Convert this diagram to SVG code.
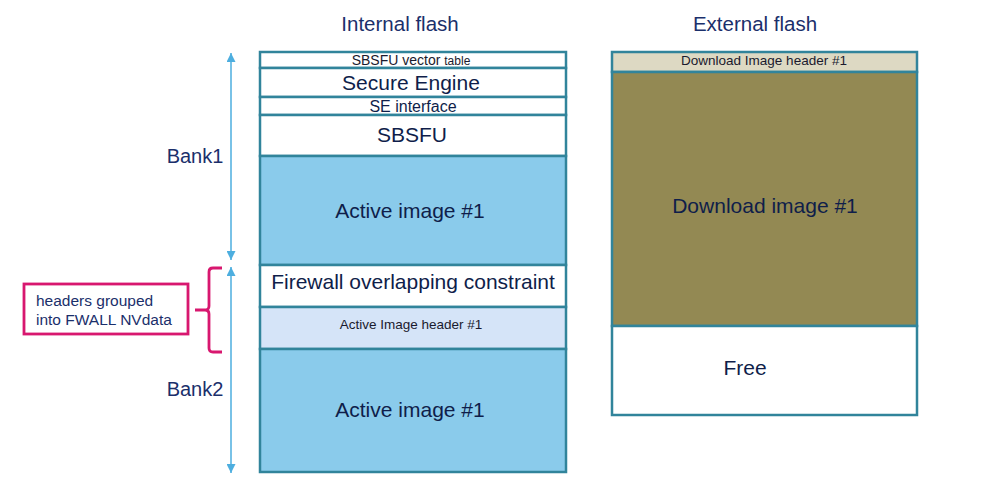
<svg xmlns="http://www.w3.org/2000/svg" width="999" height="484" viewBox="0 0 999 484">
<defs>
<marker id="ah" viewBox="0 0 10 10" refX="10" refY="5" markerWidth="9" markerHeight="9" markerUnits="userSpaceOnUse" orient="auto-start-reverse">
<path d="M0,0 L10,5 L0,10 z" fill="#4DAEDF"/>
</marker>
<style>
text{font-family:"Liberation Sans",Arial,sans-serif;text-anchor:middle}
.cell{stroke:#31849B;stroke-width:2.5}
.t21{font-size:21px;fill:#0F1E4A}
.t16{font-size:16px;fill:#0F1E4A}
.t13{font-size:13.5px;fill:#1a1a2e}
.title{font-size:20.5px;fill:#1B2F6B}
.bank{font-size:20px;fill:#1B2F6B}
.arr{stroke:#4DAEDF;stroke-width:1.5;fill:none}
.pink{stroke:#D8176F;stroke-width:2.8;fill:none}
</style>
</defs>
<rect width="999" height="484" fill="#ffffff"/>

<text class="title" x="400" y="31">Internal flash</text>
<text class="title" x="755" y="31">External flash</text>

<g id="internal-flash">
<g id="sbsfu-vector-table"><rect class="cell" x="260" y="52" width="306" height="16" fill="#ffffff"/>
<text x="411" y="65" font-size="14px" fill="#1a1a2e">SBSFU vector <tspan font-size="12px">table</tspan></text></g>
<g id="secure-engine"><rect class="cell" x="260" y="68" width="306" height="29" fill="#ffffff"/>
<text class="t21" x="411" y="90" fill="#111">Secure Engine</text></g>
<g id="se-interface"><rect class="cell" x="260" y="97" width="306" height="18" fill="#ffffff"/>
<text class="t16" x="413" y="112">SE interface</text></g>
<g id="sbsfu"><rect class="cell" x="260" y="115" width="306" height="41" fill="#ffffff"/>
<text class="t21" x="412" y="142">SBSFU</text></g>
<g id="active-image-1"><rect class="cell" x="260" y="156" width="306" height="109" fill="#8ACBEB"/>
<text class="t21" x="410" y="218" fill="#111">Active image #1</text></g>
<g id="firewall"><rect class="cell" x="260" y="265" width="306" height="42" fill="#ffffff"/>
<text class="t21" x="413" y="289">Firewall overlapping constraint</text></g>
<g id="active-image-header"><rect class="cell" x="260" y="307" width="306" height="42" fill="#D5E4F8"/>
<text class="t13" x="411" y="329">Active  Image header #1</text></g>
<g id="active-image-2"><rect class="cell" x="260" y="349" width="306" height="123" fill="#8ACBEB"/>
<text class="t21" x="410" y="417" fill="#111">Active image #1</text></g>
</g>

<g id="external-flash">
<g id="download-header"><rect class="cell" x="612" y="52" width="305" height="20" fill="#DDD9C3"/>
<text class="t13" x="764" y="65">Download Image header #1</text></g>
<g id="download-image"><rect class="cell" x="612" y="72" width="305" height="254" fill="#938953"/>
<text class="t21" x="765" y="213" fill="#111">Download image #1</text></g>
<g id="free"><rect class="cell" x="612" y="326" width="305" height="89" fill="#ffffff"/>
<text class="t21" x="745" y="375">Free</text></g>
</g>

<g id="bank1"><text class="bank" x="195" y="163">Bank1</text></g>
<g id="bank2"><text class="bank" x="195" y="396">Bank2</text></g>

<g id="note">
<rect class="pink" x="24" y="284" width="164" height="50" fill="#ffffff"/>
<text x="36" y="306" font-size="15.5px" fill="#1B2F6B" style="text-anchor:start">headers grouped</text>
<text x="36" y="325" font-size="15.5px" fill="#1B2F6B" style="text-anchor:start">into FWALL NVdata</text>
</g>

<g id="connectors">
<line class="arr" x1="231" y1="53" x2="231" y2="260" marker-start="url(#ah)" marker-end="url(#ah)"/>
<line class="arr" x1="231" y1="267" x2="231" y2="473" marker-start="url(#ah)" marker-end="url(#ah)"/>
<path class="pink" d="M222,268 L213,268 Q209,268 209,272 L209,306 Q209,310 205,310 L195,310 M205,310 Q209,310 209,314 L209,348 Q209,352 213,352 L222,352"/>
</g>
</svg>
